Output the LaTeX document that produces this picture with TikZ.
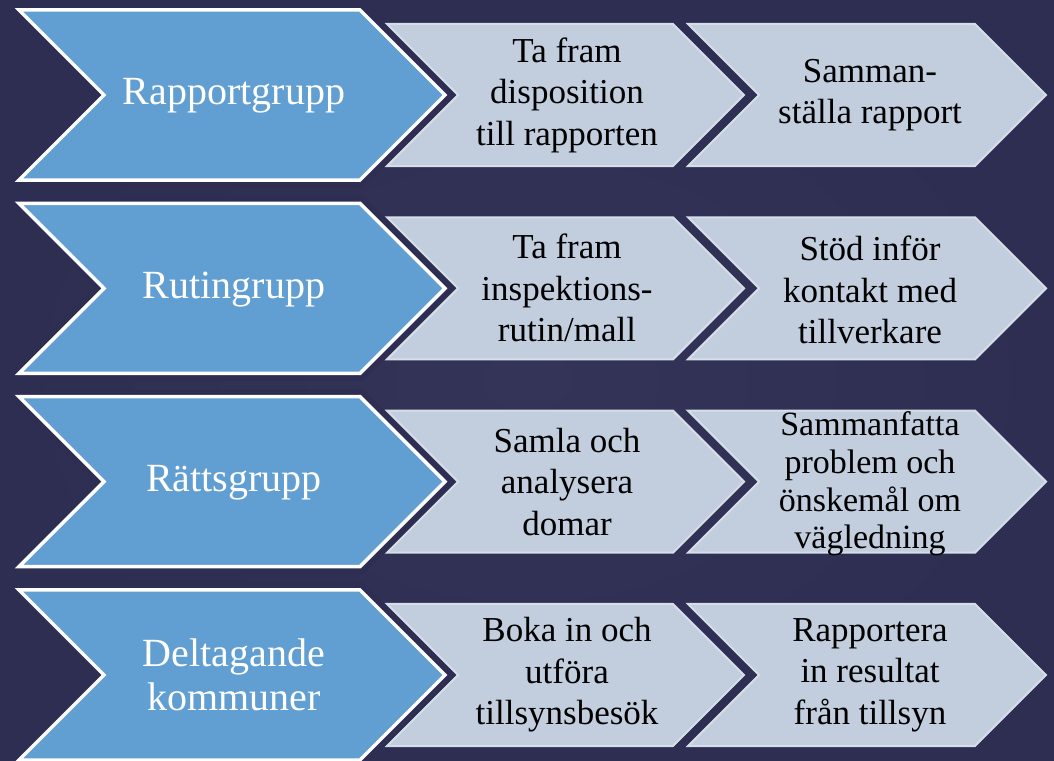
\documentclass[tikz,border=0pt]{standalone}
\usepackage{fontspec}
\setmainfont{Liberation Serif}
\definecolor{bg}{RGB}{46,45,82}
\definecolor{bglight}{RGB}{52,52,89}
\definecolor{chevblue}{RGB}{97,158,210}
\definecolor{chevgrey}{RGB}{194,205,222}
\definecolor{chevedge}{RGB}{214,222,234}
\tikzset{
  bluechev/.style={fill=chevblue, draw=white, line width=3.5pt, line join=miter},
  bluehalo/.style={draw=bg, line width=15pt, line join=miter},
  greychev/.style={fill=chevgrey, draw=chevedge, line width=2pt, line join=miter},
  bluetext/.style={text=white, inner sep=0pt, align=center, font=\fontsize{40}{44}\selectfont},
  greytext/.style={text=black, inner sep=0pt, align=center, font=\fontsize{35}{41.5}\selectfont},
  greytextsmall/.style={text=black, inner sep=0pt, align=center, font=\fontsize{34}{37.7}\selectfont},
}
\begin{document}
\begin{tikzpicture}[x=1pt,y=-1pt]
\useasboundingbox (0,0) rectangle (1054,760);
\fill[bg] (0,0) rectangle (1054,760);
\shade[inner color=bglight, outer color=bg] (0,0) rectangle (1054,760);
\foreach \i in {0,1,2,3}{
  \pgfmathsetmacro{\c}{95+193.33*\i}
  \path[greychev] (387,\c-71) -- (673,\c-71) -- (744,\c) -- (673,\c+71) -- (387,\c+71) -- (458,\c) -- cycle;
  \path[greychev] (688,\c-71) -- (975,\c-71) -- (1046,\c) -- (975,\c+71) -- (688,\c+71) -- (759,\c) -- cycle;
  \path[bluehalo] (19,\c-85) -- (360,\c-85) -- (445,\c) -- (360,\c+85) -- (19,\c+85) -- (104,\c) -- cycle;
  \path[bluechev] (19,\c-85) -- (360,\c-85) -- (445,\c) -- (360,\c+85) -- (19,\c+85) -- (104,\c) -- cycle;
}
% row 1
\node[bluetext] (b1) at (234,96) {Rapportgrupp};
\node[greytext] (g11) at (567,95) {Ta fram\\disposition\\till rapporten};
\node[greytext] (g12) at (870,95) {Samman-\\ställa rapport};
% row 2
\node[bluetext] (b2) at (234,289.33) {Rutingrupp};
\node[greytext] (g21) at (567,288.33) {Ta fram\\inspektions-\\rutin/mall};
\node[greytext] (g22) at (870,290) {Stöd inför\\kontakt med\\tillverkare};
% row 3
\node[bluetext] (b3) at (234,482.67) {Rättsgrupp};
\node[greytext] (g31) at (567,481.67) {Samla och\\analysera\\domar};
\node[greytextsmall] (g32) at (870,484) {Sammanfatta\\problem och\\önskemål om\\vägledning};
% row 4
\node[bluetext] (b4) at (234,675) {Deltagande\\kommuner};
\node[greytext] (g41) at (567,675) {Boka in och\\utföra\\tillsynsbesök};
\node[greytext] (g42) at (870,675) {Rapportera\\in resultat\\från tillsyn};
\end{tikzpicture}
\end{document}
